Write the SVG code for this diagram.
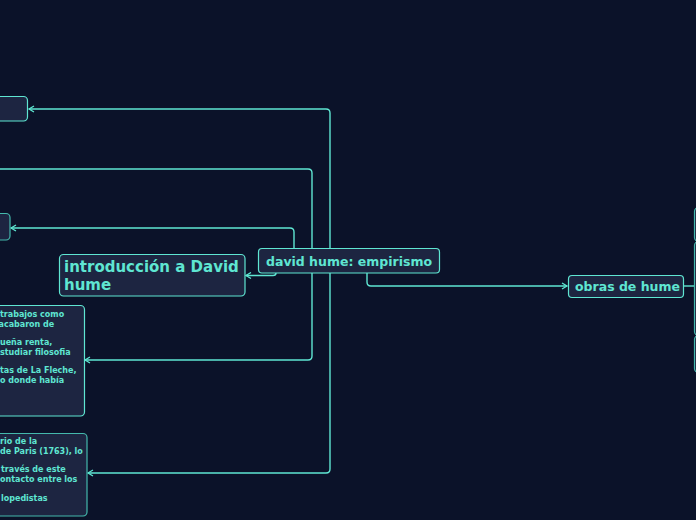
<svg xmlns="http://www.w3.org/2000/svg" width="696" height="520" viewBox="0 0 696 520">
<defs>
<marker id="arr" markerWidth="8" markerHeight="8" refX="6" refY="4" orient="auto" markerUnits="userSpaceOnUse">
<path d="M1,1 L6,4 L1,7" fill="none" stroke="#5fe6d2" stroke-width="1.3"/>
</marker>
<style>
.bg{fill:#0b1229}
.c{fill:none;stroke:#5fe6d2;stroke-width:1.4}
.n{fill:#1d2541;stroke:#5fe6d2;stroke-width:1.2}
.m{fill:#1d2541;stroke:#44b8ac;stroke-width:1.2}
.t{font-family:"DejaVu Sans",Verdana,sans-serif;font-weight:bold;fill:#5fe6d2}
.s{font-size:8px}
</style>
</defs>
<rect class="bg" x="0" y="0" width="696" height="520"/>
<g id="connectors">
<path class="c" d="M330,250 V113 Q330,109 326,109 H29" marker-end="url(#arr)"/>
<path class="c" d="M330,272 V469 Q330,473 326,473 H88" marker-end="url(#arr)"/>
<path class="c" d="M0,169 H308 Q312,169 312,173 V356 Q312,360 308,360 H85" marker-end="url(#arr)"/>
<path class="c" d="M294,250 V232 Q294,228 290,228 H11" marker-end="url(#arr)"/>
<path class="c" d="M276,272 V273 Q276,275.5 273,275.5 H246" marker-end="url(#arr)"/>
<path class="c" d="M367,272 V282 Q367,286 371,286 H567" marker-end="url(#arr)"/>
<path class="c" d="M684,286 H695"/>
</g>
<g id="node-top-left"><rect class="n" x="-10" y="96.5" width="37.5" height="24.5" rx="4"/></g>
<g id="node-mid-left"><rect class="m" x="-10" y="213.5" width="20" height="26.5" rx="4"/></g>
<g id="node-intro">
<rect class="n" x="59.5" y="254.5" width="185.5" height="41.5" rx="4"/>
<text class="t" x="64" y="272" font-size="15">introducción a David</text>
<text class="t" x="64" y="290" font-size="15">hume</text>
</g>
<g id="node-central">
<rect class="n" x="258.5" y="248.5" width="181" height="24.5" rx="3.5"/>
<text class="t" x="266" y="266" font-size="12.5">david hume: empirismo</text>
</g>
<g id="node-obras">
<rect class="n" x="568.5" y="275.5" width="115" height="22" rx="3.5"/>
<text class="t" x="575" y="291" font-size="12.5">obras de hume</text>
</g>
<g id="node-right-1"><rect class="m" x="694.5" y="207.5" width="30" height="34" rx="4"/></g>
<g id="node-right-2"><rect class="m" x="694.5" y="241.5" width="30" height="94" rx="4"/></g>
<g id="node-right-3"><rect class="m" x="694.5" y="335.5" width="30" height="37" rx="4"/></g>
<g id="node-text-1">
<rect class="n" x="-10" y="305.5" width="94.5" height="110.5" rx="4"/>
<text class="t s" x="0" y="317">trabajos como</text>
<text class="t s" x="-1.5" y="326.5">acabaron de</text>
<text class="t s" x="0" y="345">ueña renta,</text>
<text class="t s" x="0" y="354.5">studiar filosofia</text>
<text class="t s" x="0" y="373">tas de La Fleche,</text>
<text class="t s" x="0" y="382.5">o donde había</text>
</g>
<g id="node-text-2">
<rect class="m" x="-10" y="433.5" width="97" height="82.5" rx="4"/>
<text class="t s" x="0" y="444">rio de la</text>
<text class="t s" x="0" y="453.5">de Paris (1763), lo</text>
<text class="t s" x="1" y="472">través de este</text>
<text class="t s" x="0" y="481.5">ontacto entre los</text>
<text class="t s" x="1" y="500.5">lopedistas</text>
</g>
</svg>
